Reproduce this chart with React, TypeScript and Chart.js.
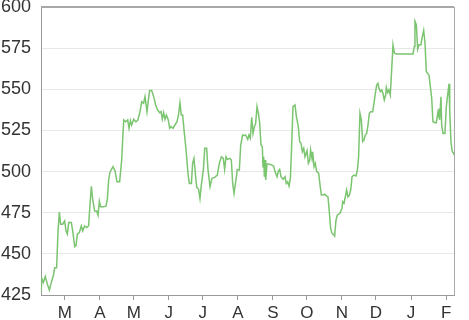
import React, { useEffect, useRef } from "react";
import { Chart, registerables } from "chart.js";

Chart.register(...registerables);

// Day offsets from the first trading day (≈ 8 Feb) and closing values
const days: number[] = [
  0, 0.9, 2.1, 3.8, 5.6, 7.4, 9.1, 10.9, 12.1, 13.8, 15.0, 16.2, 17.4, 19.1, 20.9, 22.1, 23.3, 24.5, 26.8, 28.0,
  29.8, 31.0, 32.1, 33.9, 35.6, 36.8, 38.6, 40.4, 42.1, 43.3, 44.5, 45.7, 47.4, 49.2, 50.4, 51.6, 52.7, 55.1, 57.4, 58.6,
  59.8, 61.0, 63.6, 65.4, 67.2, 69.5, 71.3, 73.1, 74.8, 76.6, 77.8, 79.0, 80.1, 81.9, 83.7, 85.4, 87.2, 89.0, 90.7, 91.9,
  93.7, 94.9, 96.0, 97.8, 99.6, 101.3, 103.1, 104.9, 106.1, 107.2, 108.4, 109.6, 110.8, 112.5, 113.7, 114.9, 116.7, 118.4, 120.2, 121.7,
  122.8, 124.0, 125.2, 126.4, 128.2, 129.9, 131.1, 132.9, 134.0, 135.2, 136.4, 137.6, 139.3, 140.5, 141.7, 143.5, 144.7, 146.4, 147.6, 149.4,
  151.1, 153.5, 155.8, 157.6, 159.4, 161.1, 162.3, 163.5, 164.7, 167.0, 168.2, 169.4, 170.6, 172.3, 173.5, 175.3, 176.5, 178.2, 179.4, 180.9,
  182.7, 183.8, 185.0, 186.2, 187.4, 188.6, 189.7, 190.9, 192.1, 193.3, 194.4, 195.6, 196.2, 196.8, 197.4, 198.0, 198.6, 199.7, 200.9, 203.3,
  205.6, 206.8, 208.6, 209.8, 210.9, 212.1, 213.9, 215.7, 216.8, 218.0, 219.2, 220.4, 221.5, 222.7, 224.5, 225.7, 227.4, 228.6, 229.8, 231.0,
  232.2, 233.3, 235.1, 236.3, 237.5, 238.3, 239.5, 240.1, 241.3, 242.4, 243.6, 245.4, 246.6, 247.8, 248.9, 250.7, 252.5, 253.6, 254.8, 256.0,
  257.2, 258.9, 259.5, 260.7, 261.9, 263.1, 264.2, 266.0, 266.6, 267.8, 269.0, 270.1, 271.3, 272.5, 273.7, 274.9, 276.6, 278.4, 279.6, 280.7,
  281.9, 283.1, 284.3, 285.5, 286.6, 287.8, 289.0, 290.2, 291.4, 293.1, 294.3, 295.5, 296.7, 297.8, 298.7, 299.9, 301.1, 302.2, 303.4, 304.6,
  305.2, 306.4, 307.5, 308.7, 309.9, 311.1, 312.3, 314.0, 328.8, 329.9, 330.5, 331.7, 332.9, 334.1, 335.8, 337.0, 338.2, 339.4, 340.5, 341.7,
  342.9, 344.1, 345.3, 346.4, 348.2, 349.4, 350.6, 351.1, 351.7, 352.3, 353.5, 354.1, 355.3, 357.0, 358.2, 359.4, 360.6, 361.2, 362.3, 363.5,
  364.7, 365.0,
];

const prices: number[] = [
  426.6, 434.7, 432.7, 436.3, 431.7, 428.0, 432.7, 436.7, 441.5, 441.5, 462.9, 475.4, 468.0, 468.0, 470.0, 464.0, 462.0, 469.0, 469.0, 464.0,
  454.4, 455.2, 462.0, 463.0, 467.0, 464.0, 467.0, 466.0, 467.0, 480.0, 491.0, 483.0, 476.0, 476.0, 473.4, 482.0, 478.6, 478.6, 479.0, 483.0,
  495.0, 499.6, 503.0, 500.5, 493.8, 493.8, 507.0, 531.4, 530.3, 531.4, 526.3, 531.0, 528.3, 531.8, 530.3, 531.0, 535.4, 542.5, 541.5, 545.5,
  536.4, 543.5, 549.2, 549.2, 545.5, 540.5, 537.4, 535.8, 536.4, 531.8, 535.8, 531.8, 534.4, 531.4, 526.3, 527.3, 526.3, 528.3, 530.3, 535.4,
  541.9, 534.4, 534.4, 525.3, 513.1, 498.9, 492.8, 492.8, 505.0, 508.0, 498.9, 490.4, 489.2, 483.7, 491.8, 501.0, 514.1, 514.1, 501.0, 490.8,
  495.9, 496.5, 497.9, 505.0, 509.0, 508.0, 501.3, 509.0, 507.4, 508.0, 507.0, 492.8, 486.8, 494.9, 501.3, 500.9, 516.1, 522.2, 522.0, 522.2,
  519.6, 522.2, 520.2, 533.0, 523.2, 527.3, 529.3, 539.5, 535.4, 529.3, 516.1, 515.1, 503.0, 509.0, 496.9, 507.0, 494.9, 504.6, 504.6, 504.2,
  503.4, 500.0, 496.9, 500.5, 501.3, 496.9, 495.3, 496.9, 492.8, 493.8, 491.2, 495.9, 515.1, 539.5, 540.5, 533.4, 527.3, 518.2, 517.2, 512.1,
  514.1, 509.0, 512.7, 505.0, 507.0, 513.1, 508.0, 512.0, 503.0, 505.0, 500.0, 499.0, 491.8, 485.7, 485.7, 486.3, 485.1, 484.7, 475.6, 465.5,
  462.4, 461.4, 460.8, 470.5, 473.6, 474.2, 474.6, 477.6, 481.7, 480.7, 484.7, 488.8, 484.7, 485.7, 488.8, 496.9, 497.9, 497.3, 500.9, 509.0,
  535.4, 531.4, 518.2, 519.2, 522.2, 523.2, 528.3, 535.4, 536.4, 536.4, 541.5, 547.6, 552.6, 553.6, 550.6, 548.6, 549.6, 547.6, 543.5, 546.5,
  551.2, 548.0, 549.6, 546.5, 561.8, 577.0, 572.0, 571.5, 571.5, 576.0, 591.3, 589.2, 574.4, 577.0, 577.0, 582.1, 585.8, 578.0, 560.8, 559.8,
  558.7, 551.6, 544.5, 530.3, 529.7, 529.7, 535.4, 533.3, 538.4, 531.3, 545.5, 528.2, 523.2, 523.2, 539.4, 546.5, 553.3, 537.4, 518.1, 512.0,
  511.4, 510.0,
];

// Month ticks (day offsets of the first of each month) and their labels
const monthDays: number[] = [21, 52, 82, 113, 143, 174, 205, 235, 266, 296, 327, 358];
const monthLabels: string[] = ["M", "A", "M", "J", "J", "A", "S", "O", "N", "D", "J", "F"];

const yTicks: number[] = [425, 450, 475, 500, 525, 550, 575, 600];

const frame = {
  id: "frame",
  afterDraw(chart: any) {
    const { ctx, chartArea } = chart;
    ctx.save();
    ctx.strokeStyle = "#a8a8a8";
    ctx.lineWidth = 2;
    ctx.beginPath();
    ctx.moveTo(chartArea.left, chartArea.top);
    ctx.lineTo(chartArea.right, chartArea.top);
    ctx.stroke();
    ctx.lineWidth = 1;
    ctx.beginPath();
    ctx.moveTo(chartArea.right + 0.5, chartArea.top);
    ctx.lineTo(chartArea.right + 0.5, chartArea.bottom);
    ctx.stroke();
    ctx.restore();
  },
};

export default function App() {
  const ref = useRef<HTMLCanvasElement | null>(null);

  useEffect(() => {
    if (!ref.current) return;
    const points = days.map((d, i) => ({ x: d, y: prices[i] }));
    const chart = new Chart(ref.current, {
      type: "line",
      data: {
        datasets: [
          {
            data: points,
            borderColor: "#7bc470",
            borderWidth: 1.5,
            pointRadius: 0,
            tension: 0,
            fill: false,
          },
        ],
      },
      options: {
        animation: false,
        responsive: false,
        layout: { padding: { top: 7, right: 15, left: 0, bottom: 0 } },
        plugins: { legend: { display: false }, tooltip: { enabled: false } },
        scales: {
          x: {
            type: "linear",
            min: 0,
            max: 365,
            border: { display: true, color: "#999999", width: 1 },
            grid: { drawOnChartArea: false, drawTicks: true, tickLength: 5, color: "#999999" },
            afterBuildTicks: (scale: any) => {
              scale.ticks = monthDays.map((v) => ({ value: v }));
            },
            afterFit: (scale: any) => {
              scale.height = 25;
              scale.paddingLeft = 0;
              scale.paddingRight = 0;
            },
            ticks: {
              autoSkip: false,
              maxRotation: 0,
              padding: 3,
              color: "#333333",
              font: { family: "'Liberation Sans', Arial, sans-serif", size: 17 },
              callback: (value: any) => {
                const i = monthDays.indexOf(Number(value));
                return i >= 0 ? monthLabels[i] : "";
              },
            },
          },
          y: {
            type: "linear",
            min: 425,
            max: 600,
            border: { display: true, color: "#999999", width: 1 },
            grid: { drawTicks: false, color: "#e8e8e8" },
            afterBuildTicks: (scale: any) => {
              scale.ticks = yTicks.map((v) => ({ value: v }));
            },
            afterFit: (scale: any) => {
              scale.width = 41;
              scale.paddingTop = 0;
              scale.paddingBottom = 0;
            },
            ticks: {
              padding: 10,
              color: "#333333",
              font: { family: "'Liberation Sans', Arial, sans-serif", size: 18 },
            },
          },
        },
      },
      plugins: [frame],
    });
    return () => chart.destroy();
  }, []);

  return (
    <div style={{ position: "fixed", left: 0, top: 0, width: 469, height: 320 }}>
      <canvas ref={ref} width={469} height={320} style={{ display: "block", width: 469, height: 320 }} />
    </div>
  );
}
